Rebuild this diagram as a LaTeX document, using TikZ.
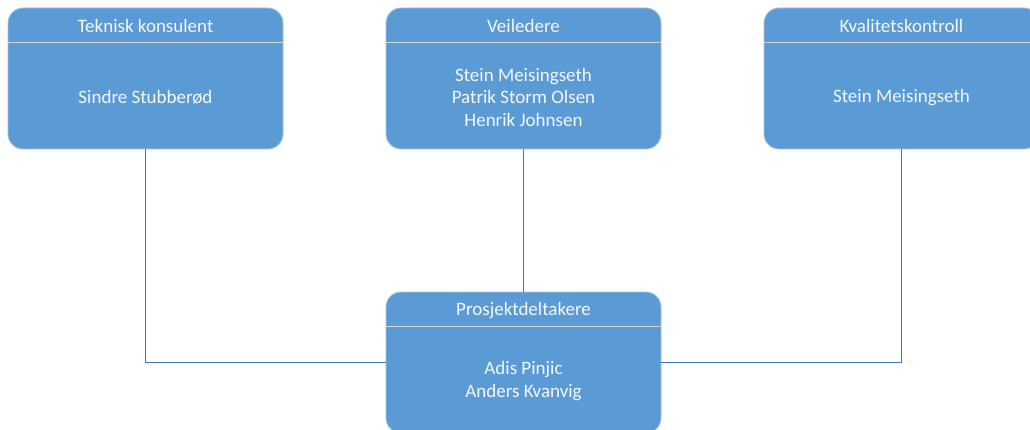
\documentclass[tikz,border=0pt]{standalone}
\usepackage{fontspec}
\setmainfont{Carlito}
\usetikzlibrary{calc}
\definecolor{boxfill}{HTML}{5B9BD5}
\definecolor{boxedge}{HTML}{A7C1E0}
\definecolor{divcolor}{HTML}{D6D3CC}
\definecolor{linkcolor}{HTML}{4472C4}
\definecolor{lbltext}{HTML}{F4F7FB}
\begin{document}
\begin{tikzpicture}[x=1pt,y=-1pt,
  orgbox/.style={draw=boxedge, fill=boxfill, rounded corners=15pt,
    minimum width=275pt, minimum height=141pt, line width=0.9pt, inner sep=0pt},
  headtext/.style={text=lbltext, font=\fontsize{19}{22.5}\selectfont, inner sep=0pt},
  bodytext/.style={text=lbltext, font=\fontsize{19}{22.5}\selectfont, align=center, inner sep=0pt},
  divider/.style={draw=divcolor, line width=0.9pt},
  link/.style={draw=linkcolor, line width=1.1pt}]
\clip (0,0) rectangle (1030,430);
\useasboundingbox (0,0) rectangle (1030,430);

% box centres
\coordinate (tkpos) at (145.5,78.5);
\coordinate (vlpos) at (523.5,78.5);
\coordinate (kkpos) at (901.5,78.5);
\coordinate (pdpos) at (523.5,362.5);

% boxes
\node[orgbox] (tk) at (tkpos) {};
\node[orgbox] (vl) at (vlpos) {};
\node[orgbox] (kk) at (kkpos) {};
\node[orgbox] (pd) at (pdpos) {};

% connectors
\draw[link] (tk.south) |- (pd.west);
\draw[link] (kk.south) |- (pd.east);
\draw[link] (vl.south) -- (pd.north);

% header dividers
\foreach \b in {tk,vl,kk,pd}{
  \draw[divider] ($(\b.north west)+(0.5,34.5)$) -- ($(\b.north east)+(-0.5,34.5)$);
}

% labels
\node[headtext] (tk-head) at ($(tk.north)+(0,18.5)$) {Teknisk konsulent};
\node[bodytext] (tk-body) at ($(tk.north)+(0,90)$) {Sindre Stubberød};

\node[headtext] (vl-head) at ($(vl.north)+(0,18.5)$) {Veiledere};
\node[bodytext] (vl-body) at ($(vl.north)+(0,89.5)$) {Stein Meisingseth\\Patrik Storm Olsen\\Henrik Johnsen};

\node[headtext] (kk-head) at ($(kk.north)+(0,18.5)$) {Kvalitetskontroll};
\node[bodytext] (kk-body) at ($(kk.north)+(0,90)$) {Stein Meisingseth};

\node[headtext] (pd-head) at ($(pd.north)+(0,18.5)$) {Prosjektdeltakere};
\node[bodytext] (pd-body) at ($(pd.north)+(0,89.5)$) {Adis Pinjic\\Anders Kvanvig};
\end{tikzpicture}
\end{document}
